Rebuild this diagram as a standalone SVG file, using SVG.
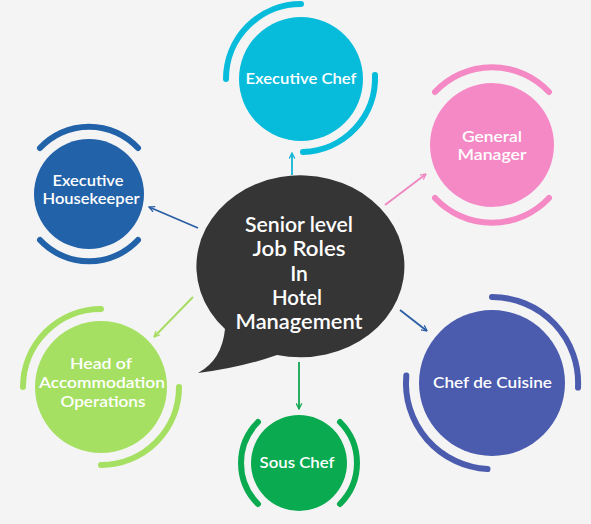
<svg xmlns="http://www.w3.org/2000/svg" width="591" height="524" viewBox="0 0 591 524">
<defs>
<style>
.lbl{font-family:Lato,"Open Sans","Liberation Sans",sans-serif;font-weight:600;fill:#ffffff;text-anchor:middle;}
.arc{fill:none;stroke-width:6;stroke-linecap:round;}
.con{fill:none;stroke-width:1.8;}
</style>
<marker id="mCyan" viewBox="0 0 10 10" refX="9" refY="5" markerWidth="7" markerHeight="7" orient="auto" markerUnits="userSpaceOnUse"><path d="M1,1 L9,5 L1,9" fill="none" stroke="#12b5d4" stroke-width="1.8"/></marker>
<marker id="mPink" viewBox="0 0 10 10" refX="9" refY="5" markerWidth="7" markerHeight="7" orient="auto" markerUnits="userSpaceOnUse"><path d="M1,1 L9,5 L1,9" fill="none" stroke="#ef86c0" stroke-width="1.8"/></marker>
<marker id="mBlue" viewBox="0 0 10 10" refX="9" refY="5" markerWidth="7" markerHeight="7" orient="auto" markerUnits="userSpaceOnUse"><path d="M1,1 L9,5 L1,9" fill="none" stroke="#2a5fa6" stroke-width="1.8"/></marker>
<marker id="mLime" viewBox="0 0 10 10" refX="9" refY="5" markerWidth="7" markerHeight="7" orient="auto" markerUnits="userSpaceOnUse"><path d="M1,1 L9,5 L1,9" fill="none" stroke="#a3dc5e" stroke-width="1.8"/></marker>
<marker id="mGreen" viewBox="0 0 10 10" refX="9" refY="5" markerWidth="7" markerHeight="7" orient="auto" markerUnits="userSpaceOnUse"><path d="M1,1 L9,5 L1,9" fill="none" stroke="#13a653" stroke-width="1.8"/></marker>
</defs>
<rect x="0" y="0" width="591" height="524" fill="#f4f4f4"/>

<g id="connectors">
<line class="con" x1="292" y1="175" x2="292" y2="153" stroke="#12b5d4" marker-end="url(#mCyan)"/>
<line class="con" x1="385" y1="205" x2="426" y2="174" stroke="#ef86c0" marker-end="url(#mPink)"/>
<line class="con" x1="198" y1="228" x2="149" y2="207" stroke="#2a5fa6" marker-end="url(#mBlue)"/>
<line class="con" x1="193" y1="297" x2="154" y2="337" stroke="#a3dc5e" marker-end="url(#mLime)"/>
<line class="con" x1="299" y1="362" x2="299" y2="409" stroke="#13a653" marker-end="url(#mGreen)"/>
<line class="con" x1="400" y1="310" x2="427" y2="331" stroke="#2a5fa6" marker-end="url(#mBlue)"/>
</g>

<g id="center">
<path d="M225,329 A104,91 0 1 1 277,355 Q240,368 198,373 Q222,360 225,329 Z" fill="#353535"/>
<text class="lbl" font-size="21" x="299" y="232" textLength="108" lengthAdjust="spacingAndGlyphs">Senior level</text>
<text class="lbl" font-size="21" x="299" y="256" textLength="93" lengthAdjust="spacingAndGlyphs">Job Roles</text>
<text class="lbl" font-size="21" x="299" y="281">In</text>
<text class="lbl" font-size="21" x="297" y="305" textLength="50" lengthAdjust="spacingAndGlyphs">Hotel</text>
<text class="lbl" font-size="21" x="299" y="329" textLength="127" lengthAdjust="spacingAndGlyphs">Management</text>
</g>

<g id="executive-chef">
<circle cx="301" cy="79" r="62" fill="#07bcdb"/>
<path class="arc" stroke="#07bcdb" d="M226,79 A75,75 0 0 1 301,4"/>
<path class="arc" stroke="#07bcdb" d="M375,75 A74,74 0 0 1 303,152"/>
<text class="lbl" font-size="16" x="301" y="84" textLength="111" lengthAdjust="spacingAndGlyphs">Executive Chef</text>
</g>

<g id="general-manager">
<circle cx="492" cy="145" r="62" fill="#f589c6"/>
<path class="arc" stroke="#f589c6" d="M435,92 A78,78 0 0 1 549,92"/>
<path class="arc" stroke="#f589c6" d="M435,198 A78,78 0 0 0 549,198"/>
<text class="lbl" font-size="16" x="492" y="142" textLength="60" lengthAdjust="spacingAndGlyphs">General</text>
<text class="lbl" font-size="16" x="492" y="160" textLength="69" lengthAdjust="spacingAndGlyphs">Manager</text>
</g>

<g id="executive-housekeeper">
<circle cx="89" cy="194" r="55" fill="#2262a9"/>
<path class="arc" stroke="#2262a9" d="M40,148 A67,67 0 0 1 138,148"/>
<path class="arc" stroke="#2262a9" d="M40,240 A67,67 0 0 0 138,240"/>
<text class="lbl" font-size="16" x="88" y="186" textLength="71" lengthAdjust="spacingAndGlyphs">Executive</text>
<text class="lbl" font-size="16" x="91" y="204" textLength="97" lengthAdjust="spacingAndGlyphs">Housekeeper</text>
</g>

<g id="head-of-accommodation">
<circle cx="101" cy="387" r="66" fill="#a6e062"/>
<path class="arc" stroke="#a6e062" d="M23,387 A78,78 0 0 1 101,309"/>
<path class="arc" stroke="#a6e062" d="M179,387 A78,78 0 0 1 101,465"/>
<text class="lbl" font-size="16" x="101" y="369" textLength="62" lengthAdjust="spacingAndGlyphs">Head of</text>
<text class="lbl" font-size="16" x="102" y="388" textLength="126" lengthAdjust="spacingAndGlyphs">Accommodation</text>
<text class="lbl" font-size="16" x="103" y="407" textLength="85" lengthAdjust="spacingAndGlyphs">Operations</text>
</g>

<g id="sous-chef">
<circle cx="299" cy="463" r="48" fill="#0aaa50"/>
<path class="arc" stroke="#0aaa50" d="M258,422 A58,58 0 0 0 258,504"/>
<path class="arc" stroke="#0aaa50" d="M340,422 A58,58 0 0 1 340,504"/>
<text class="lbl" font-size="16" x="297" y="468" textLength="75" lengthAdjust="spacingAndGlyphs">Sous Chef</text>
</g>

<g id="chef-de-cuisine">
<circle cx="492" cy="383" r="73" fill="#4b5bae"/>
<path class="arc" stroke="#4b5bae" d="M492,297 A86,86 0 0 1 578,387.5"/>
<path class="arc" stroke="#4b5bae" d="M487.5,469 A86,86 0 0 1 406.3,375.5"/>
<text class="lbl" font-size="16" x="492.5" y="388" textLength="119" lengthAdjust="spacingAndGlyphs">Chef de Cuisine</text>
</g>
</svg>
